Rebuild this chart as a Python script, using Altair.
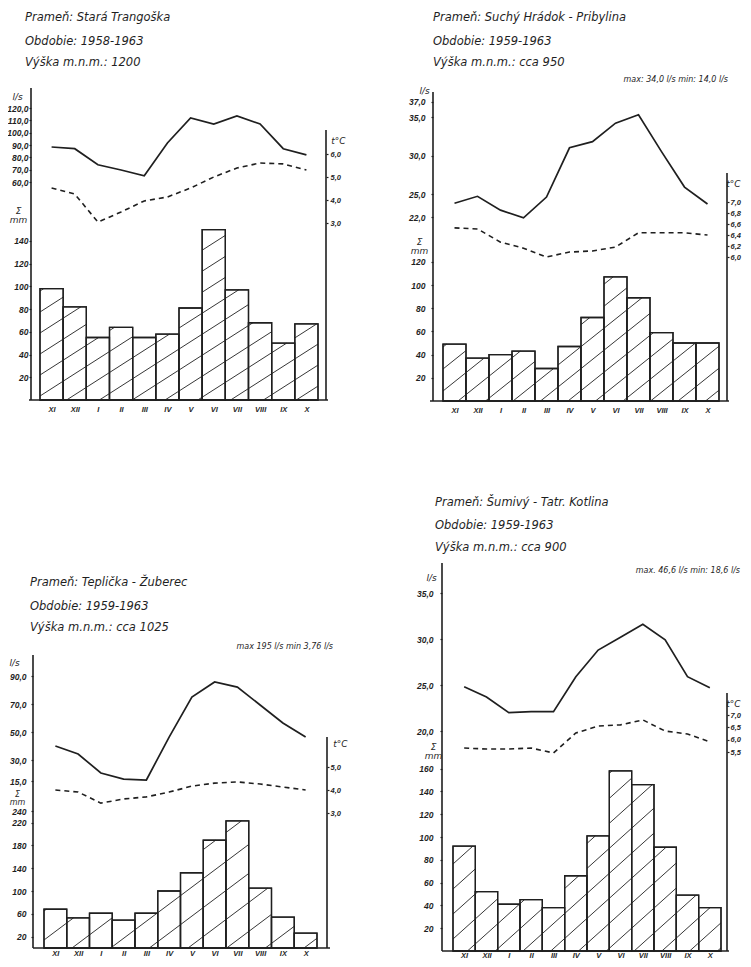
import json
import pandas as pd
import altair as alt

# ---------------- data ----------------
months = ["XI", "XII", "I", "II", "III", "IV", "V", "VI", "VII", "VIII", "IX", "X"]

# Panel 1: Stará Trangoška
p1_precip = [98, 82, 55, 64, 55, 58, 81, 150, 97, 68, 50, 67]
p1_flow = [88.4, 87.0, 74.0, 69.7, 65.0, 91.6, 112.0, 107.0, 113.5, 107.0, 87.0, 82.0]
p1_temp = [4.52, 4.26, 3.04, 3.48, 3.96, 4.13, 4.52, 5.0, 5.39, 5.61, 5.57, 5.3]

# Panel 2: Suchý Hrádok - Pribylina
p2_precip = [49, 37, 40, 43, 28, 47, 72, 107, 89, 59, 50, 50]
p2_flow = [23.8, 24.7, 22.9, 21.9, 24.6, 31.0, 31.8, 34.2, 35.3, 30.5, 25.9, 23.7]
p2_temp = [6.53, 6.51, 6.27, 6.16, 6.0, 6.09, 6.11, 6.18, 6.44, 6.44, 6.44, 6.40]

# Panel 3: Teplička - Žuberec
p3_precip = [68, 53, 61, 49, 61, 100, 132, 189, 223, 105, 54, 26]
p3_flow = [40.0, 34.3, 20.7, 16.4, 15.7, 46.4, 75.0, 85.7, 82.1, 69.3, 56.4, 46.4]
p3_temp = [4.0, 3.91, 3.43, 3.61, 3.70, 3.91, 4.17, 4.30, 4.35, 4.26, 4.13, 4.0]

# Panel 4: Šumivý - Tatr. Kotlina
p4_precip = [92, 52, 41, 45, 38, 66, 101, 158, 146, 91, 49, 38]
p4_flow = [24.8, 23.7, 22.0, 22.1, 22.1, 25.9, 28.8, 30.2, 31.6, 29.9, 25.9, 24.7]
p4_temp = [5.66, 5.62, 5.62, 5.66, 5.46, 6.27, 6.55, 6.60, 6.80, 6.35, 6.23, 5.91]

p1_text = ["Prameň: Stará Trangoška", "Obdobie: 1958-1963", "Výška m.n.m.: 1200"]
p2_text = ["Prameň: Suchý Hrádok - Pribylina", "Obdobie: 1959-1963", "Výška m.n.m.: cca 950"]
p3_text = ["Prameň: Teplička - Žuberec", "Obdobie: 1959-1963", "Výška m.n.m.: cca 1025"]
p4_text = ["Prameň: Šumivý - Tatr. Kotlina", "Obdobie: 1959-1963", "Výška m.n.m.: cca 900"]
p2_note = "max: 34,0 l/s  min: 14,0 l/s"
p3_note = "max 195 l/s  min 3,76 l/s"
p4_note = "max. 46,6 l/s  min: 18,6 l/s"

p1_flow_ticks = [60, 70, 80, 90, 100, 110, 120]
p2_flow_ticks = [22, 25, 30, 35, 37]
p3_flow_ticks = [15, 30, 50, 70, 90]
p4_flow_ticks = [20, 25, 30, 35]
p1_temp_ticks = [3, 4, 5, 6]
p2_temp_ticks = [6.0, 6.2, 6.4, 6.6, 6.8, 7.0]
p3_temp_ticks = [3, 4, 5]
p4_temp_ticks = [5.5, 6.0, 6.5, 7.0]
p1_precip_ticks = [20, 40, 60, 80, 100, 120, 140]
p2_precip_ticks = [20, 40, 60, 80, 100, 120]
p3_precip_ticks = [20, 60, 100, 140, 180, 220, 240]
p4_precip_ticks = [20, 40, 60, 80, 100, 120, 140, 160]

# ---------------- layout: one canvas, page pixel geometry ----------------
INK = "#1f1f1f"
FONT = "DejaVu Sans"
LFONT = "Liberation Sans"
CW, CH = 735, 951          # canvas (plot) size
OX, OY = 8, 8              # page margin

cfg1 = dict(axL=31, top=88, B=400, bl=40, br=318, R=326, axR_top=130, base=(29, 328),
            ppm=1.136, flow=(120, 108, 60, 182), temp=(6.0, 154, 3.0, 223),
            hx=25, hy=(18, 42, 63), note=None, ls=(17, 96), sm=(18, 210), tc=(338, 140),
            lpad=1, rpad=2, xpad=5, tfs=9, slope=0.64, gap=21, phase=4)
cfg2 = dict(axL=433, top=92, B=401, bl=443, br=719, R=727, axR_top=173, base=(430, 729),
            ppm=1.16, flow=(35, 117, 25, 194), temp=(7.0, 202, 6.0, 257),
            hx=433, hy=(18, 42, 63), note=(728, 80), ls=(424, 90), sm=(419, 241), tc=(733, 183),
            lpad=6, rpad=1, xpad=5, tfs=9, slope=0.8, gap=22, phase=10)
cfg3 = dict(axL=33, top=655, B=948, bl=44, br=317, R=327, axR_top=737, base=(33, 330),
            ppm=0.57, flow=(90, 676, 15, 781), temp=(5.0, 767, 3.0, 813),
            hx=30, hy=(583, 607, 628), note=(333, 647), ls=(14, 662), sm=(17, 794), tc=(340, 743),
            lpad=5, rpad=1, xpad=1, tfs=8, slope=0.75, gap=29, phase=8)
cfg4 = dict(axL=442, top=563, B=951, bl=453, br=721, R=727, axR_top=693, base=(442, 729),
            ppm=1.14, flow=(35, 593, 20, 731), temp=(7.0, 715, 5.5, 752),
            hx=435, hy=(503, 526, 548), note=(740, 571), ls=(431, 577), sm=(433, 746), tc=(733, 703),
            lpad=7, rpad=1, xpad=0, tfs=9, slope=0.9, gap=25, phase=12)

COMMA = "replace(format(datum.value, '.1f'), '.', ',')"
INTF = "format(datum.value, 'd')"


def ydomain(v1, y1, v2, y2):
    py1, py2 = y1 - OY, y2 - OY
    k = (py2 - py1) / (v2 - v1)
    return [v1 + (CH - py1) / k, v1 - py1 / k]


def hatch_segments(precip, bw, ppm, slope, gap, phase):
    rows = []
    total_w = 12 * bw
    hmax = max(precip) * ppm
    kmin = int(-slope * total_w / gap) - 2
    kmax = int(hmax / gap) + 2
    for i, v in enumerate(precip):
        x0, x1 = i * bw, (i + 1) * bw
        h = v * ppm
        for k in range(kmin, kmax + 1):
            c = k * gap + phase
            xe = max(x0, (0 - c) / slope)
            xx = min(x1, (h - c) / slope)
            if xx - xe > 0.8:
                rows.append(dict(x=xe / bw, x2=xx / bw,
                                 y=(slope * xe + c) / ppm, y2=(slope * xx + c) / ppm))
    return pd.DataFrame(rows)


ONE = pd.DataFrame({"k": [0]})


def txt(s, px, py, size, align="left", font=FONT):
    return alt.Chart(ONE).mark_text(
        text=s, font=font, fontStyle="italic", fontSize=size, color=INK,
        align=align, baseline="middle").encode(x=alt.value(px - OX), y=alt.value(py - OY))


def yaxis(orient, anchor, ticks, expr, title, tpos, pad, size, tfs=9):
    offset = -(anchor - OX) if orient == "left" else (anchor - OX) - CW
    return alt.Axis(orient=orient, offset=offset, values=ticks, labelExpr=expr,
                    tickSize=2, tickColor=INK, tickWidth=1.2, domain=False, grid=False,
                    labelFont=LFONT, labelFontStyle="italic", labelFontWeight="bold",
                    labelFontSize=size, labelColor=INK, labelPadding=pad,
                    labelOverlap=False, labelFlush=False, labelBound=False,
                    title=title, titleAngle=0, titleFont=FONT, titleFontStyle="italic",
                    titleFontWeight="normal", titleFontSize=tfs, titleColor=INK,
                    titleAlign="center", titleBaseline="middle", titleLineHeight=tfs,
                    titleX=tpos[0] - anchor, titleY=tpos[1] - OY)


def panel_layers(cfg, precip, flow, temp, ftk, ttk, ptk, header, note):
    bw = (cfg["br"] - cfg["bl"]) / 12
    xa = -(cfg["bl"] - OX) / bw
    xs = alt.Scale(domain=[xa, xa + CW / bw], nice=False, zero=False)
    B, ppm = cfg["B"], cfg["ppm"]
    ps = alt.Scale(domain=ydomain(0, B, 100, B - 100 * ppm), nice=False, zero=False)
    fs = alt.Scale(domain=ydomain(*cfg["flow"]), nice=False, zero=False)
    ts = alt.Scale(domain=ydomain(*cfg["temp"]), nice=False, zero=False)

    df = pd.DataFrame({
        "month": months,
        "x0": [i for i in range(12)],
        "x1": [i + 1 for i in range(12)],
        "xc": [i + 0.5 for i in range(12)],
        "precip": precip, "flow": flow, "temp": temp,
    })
    hd = hatch_segments(precip, bw, ppm, cfg["slope"], cfg["gap"], cfg["phase"])

    xaxis = alt.Axis(orient="bottom", offset=(B - OY) - CH,
                     values=[i + 0.5 for i in range(12)],
                     labelExpr=json.dumps(months) + "[floor(datum.value)]",
                     ticks=False, domain=False, grid=False, title=None,
                     labelFont=LFONT, labelFontStyle="italic", labelFontSize=7.5,
                     labelFontWeight="bold", labelColor=INK, labelPadding=cfg["xpad"],
                     labelOverlap=False, labelFlush=False, labelBound=False)

    bars = alt.Chart(df).mark_rect(fill="white", stroke=INK, strokeWidth=1.3).encode(
        x=alt.X("x0:Q", scale=xs, axis=xaxis),
        x2="x1",
        y=alt.Y("precip:Q", scale=ps,
                axis=yaxis("left", cfg["axL"], ptk, INTF, ["Σ", "mm"], cfg["sm"], cfg["lpad"],
                           8.5, cfg["tfs"])),
        y2=alt.datum(0),
    )
    hatch = alt.Chart(hd).mark_rule(color=INK, strokeWidth=0.9).encode(
        x=alt.X("x:Q", scale=xs, axis=None), x2="x2",
        y=alt.Y("y:Q", scale=ps, axis=None), y2="y2",
    )
    outline = alt.Chart(df).mark_rect(fill=None, stroke=INK, strokeWidth=1.3).encode(
        x=alt.X("x0:Q", scale=xs, axis=None), x2="x1",
        y=alt.Y("precip:Q", scale=ps, axis=None), y2=alt.datum(0),
    )
    fline = alt.Chart(df).mark_line(color=INK, strokeWidth=1.7).encode(
        x=alt.X("xc:Q", scale=xs, axis=None),
        y=alt.Y("flow:Q", scale=fs,
                axis=yaxis("left", cfg["axL"], ftk, COMMA, "l/s", cfg["ls"], cfg["lpad"], 8.5)),
    )
    tline = alt.Chart(df).mark_line(color=INK, strokeWidth=1.6, strokeDash=[5, 4]).encode(
        x=alt.X("xc:Q", scale=xs, axis=None),
        y=alt.Y("temp:Q", scale=ts,
                axis=yaxis("right", cfg["R"], ttk, COMMA, "t°C", cfg["tc"], cfg["rpad"], 7.5)),
    )
    left_ax = alt.Chart(ONE).mark_rule(color=INK, strokeWidth=1.6).encode(
        x=alt.value(cfg["axL"] - OX), y=alt.value(cfg["top"] - OY), y2=alt.value(B - OY))
    right_ax = alt.Chart(ONE).mark_rule(color=INK, strokeWidth=1.6).encode(
        x=alt.value(cfg["R"] - OX), y=alt.value(cfg["axR_top"] - OY), y2=alt.value(B - OY))
    base_ax = alt.Chart(ONE).mark_rule(color=INK, strokeWidth=1.6).encode(
        x=alt.value(cfg["base"][0] - OX), x2=alt.value(cfg["base"][1] - OX), y=alt.value(B - OY))

    layers = [bars, hatch, outline, left_ax, right_ax, base_ax, fline, tline]
    for s, yy in zip(header, cfg["hy"]):
        layers.append(txt(s, cfg["hx"], yy, 11.5))
    if note is not None:
        layers.append(txt(note, cfg["note"][0], cfg["note"][1], 8, align="right"))
    return layers


all_layers = []
all_layers += panel_layers(cfg1, p1_precip, p1_flow, p1_temp, p1_flow_ticks, p1_temp_ticks,
                           p1_precip_ticks, p1_text, None)
all_layers += panel_layers(cfg2, p2_precip, p2_flow, p2_temp, p2_flow_ticks, p2_temp_ticks,
                           p2_precip_ticks, p2_text, p2_note)
all_layers += panel_layers(cfg3, p3_precip, p3_flow, p3_temp, p3_flow_ticks, p3_temp_ticks,
                           p3_precip_ticks, p3_text, p3_note)
all_layers += panel_layers(cfg4, p4_precip, p4_flow, p4_temp, p4_flow_ticks, p4_temp_ticks,
                           p4_precip_ticks, p4_text, p4_note)

chart = alt.layer(*all_layers).resolve_scale(x="independent", y="independent").properties(
    width=CW, height=CH, padding=0, background="white",
    autosize=alt.AutoSizeParams(type="none"),
).configure_view(stroke=None)

chart.save("out.html", embed_options={"renderer": "svg", "actions": False})
